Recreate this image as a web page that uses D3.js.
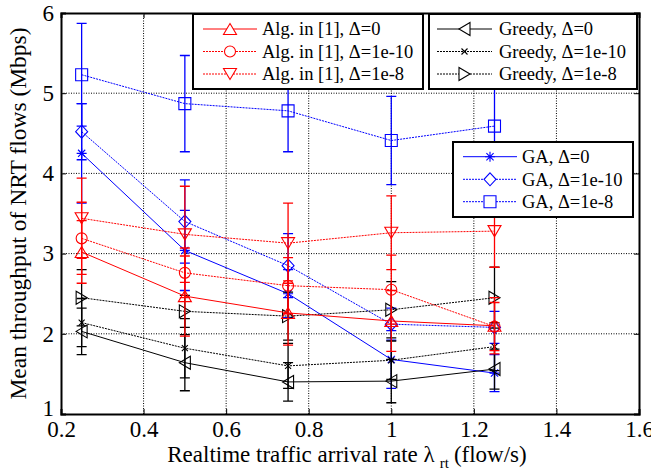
<!DOCTYPE html>
<html>
<head>
<meta charset="utf-8">
<script src="https://cdn.jsdelivr.net/npm/d3@7"></script>
<style>
  body { margin: 0; background: #fff; }
  svg text { font-family: "Liberation Serif", "DejaVu Serif", serif; }
</style>
</head>
<body>
<svg id="chart" width="651" height="468"></svg>
<script>
// ---- data ----
const xValues = [0.25, 0.5, 0.75, 1, 1.25];

const algD0 = [3.02, 2.47, 2.26, 2.16, 2.10];
const algD10 = [3.19, 2.76, 2.60, 2.55, 2.09];
const algD8 = [3.44, 3.24, 3.13, 3.26, 3.28];
const greedyD0 = [2.03, 1.64, 1.40, 1.41, 1.56];
const greedyD10 = [2.14, 1.82, 1.60, 1.67, 1.84];
const greedyD8 = [2.45, 2.28, 2.22, 2.30, 2.45];
const gaD0 = [4.25, 3.04, 2.50, 1.68, 1.51];
const gaD10 = [4.52, 3.40, 2.85, 2.12, 2.08];
const gaD8 = [5.23, 4.87, 4.78, 4.41, 4.59];

// half-length of the error bars
const algD0Err = [0.39, 0.50, 0.40, 0.38, 0.35];
const algD10Err = [0.45, 0.31, 0.35, 0.43, 0.30];
const algD8Err = [0.50, 0.60, 0.50, 0.46, 0.45];
const greedyD0Err = [0.29, 0.35, 0.24, 0.27, 0.25];
const greedyD10Err = [0.30, 0.37, 0.28, 0.24, 0.30];
const greedyD8Err = [0.35, 0.20, 0.30, 0.35, 0.38];
const gaD0Err = [0.62, 0.50, 0.30, 0.36, 0.23];
const gaD10Err = [0.35, 0.52, 0.40, 0.20, 0.20];
const gaD8Err = [0.64, 0.60, 0.51, 0.55, 0.60];

const xTicks = [0.2, 0.4, 0.6, 0.8, 1, 1.2, 1.4, 1.6];
const yTicks = [1, 2, 3, 4, 5, 6];

const legendAlg = ["Alg. in [1], \u0394=0", "Alg. in [1], \u0394=1e-10", "Alg. in [1], \u0394=1e-8"];
const legendGreedy = ["Greedy, \u0394=0", "Greedy, \u0394=1e-10", "Greedy, \u0394=1e-8"];
const legendGA = ["GA, \u0394=0", "GA, \u0394=1e-10", "GA, \u0394=1e-8"];

const serif = "Liberation Serif, DejaVu Serif, serif";

// ---- series table ----
const series = [
    { name: legendGA[0], values: gaD0, err: gaD0Err, color: "#0000ff", marker: "star", dash: null },
    { name: legendGA[1], values: gaD10, err: gaD10Err, color: "#0000ff", marker: "diamond", dash: "2,1" },
    { name: legendGA[2], values: gaD8, err: gaD8Err, color: "#0000ff", marker: "square", dash: "2,1" },
    { name: legendGreedy[0], values: greedyD0, err: greedyD0Err, color: "#000", marker: "triLeft", dash: null },
    { name: legendGreedy[1], values: greedyD10, err: greedyD10Err, color: "#000", marker: "cross", dash: "2,1" },
    { name: legendGreedy[2], values: greedyD8, err: greedyD8Err, color: "#000", marker: "triRight", dash: "2,1" },
    { name: legendAlg[0], values: algD0, err: algD0Err, color: "#ff0000", marker: "triUp", dash: null },
    { name: legendAlg[1], values: algD10, err: algD10Err, color: "#ff0000", marker: "circle", dash: "2,1" },
    { name: legendAlg[2], values: algD8, err: algD8Err, color: "#ff0000", marker: "triDown", dash: "2,1" }
];

const svg = d3.select("#chart");
const margin = { left: 61, right: 12, top: 13, bottom: 54 };
const width = 651, height = 468;

const x = d3.scaleLinear().domain([0.2, 1.6]).range([margin.left, width - margin.right]);
const y = d3.scaleLinear().domain([1, 6]).range([height - margin.bottom, margin.top]);

// marker shapes
function markerPath(type) {
    switch (type) {
        case "triUp": return "M0,-5.5L6.5,5.5L-6.5,5.5Z";
        case "triDown": return "M0,5.5L6.5,-5.5L-6.5,-5.5Z";
        case "triLeft": return "M-5.5,0L5.5,-6.5L5.5,6.5Z";
        case "triRight": return "M5.5,0L-5.5,-6.5L-5.5,6.5Z";
        case "circle": return "M5.5,0A5.5,5.5 0 1,1 -5.5,0A5.5,5.5 0 1,1 5.5,0Z";
        case "square": return "M-6,-6H6V6H-6Z";
        case "diamond": return "M0,-6.5L6,0L0,6.5L-6,0Z";
        case "star": return "M0,-5V5M-5,0H5M-3.6,-3.6L3.6,3.6M-3.6,3.6L3.6,-3.6";
        case "cross": return "M-3,-3L3,3M-3,3L3,-3";
    }
}

// ---- grid ----
const grid = svg.append("g").attr("class", "grid");
grid.selectAll(".gx").data(xTicks.slice(1, -1)).join("line")
    .attr("x1", d => x(d)).attr("x2", d => x(d))
    .attr("y1", y(1)).attr("y2", y(6))
    .attr("stroke", "#000").attr("stroke-width", 1).attr("stroke-dasharray", "1,1.5");
grid.selectAll(".gy").data(yTicks.slice(1, -1)).join("line")
    .attr("x1", x(0.2)).attr("x2", x(1.6))
    .attr("y1", d => y(d)).attr("y2", d => y(d))
    .attr("stroke", "#000").attr("stroke-width", 1).attr("stroke-dasharray", "1,1.5");

// ---- series ----
const line = d3.line().x((d, i) => x(xValues[i])).y(d => y(d));
const capW = 5;

series.forEach(s => {
    const g = svg.append("g").attr("class", "series");
    // error bars
    s.values.forEach((v, i) => {
        const cx = x(xValues[i]);
        const lo = y(v - s.err[i]), hi = y(v + s.err[i]);
        g.append("path")
            .attr("d", `M${cx},${hi}V${lo}M${cx - capW},${hi}H${cx + capW}M${cx - capW},${lo}H${cx + capW}`)
            .attr("fill", "none").attr("stroke", s.color).attr("stroke-width", 1.3);
    });
    g.append("path")
        .attr("d", line(s.values))
        .attr("fill", "none").attr("stroke", s.color).attr("stroke-width", 1)
        .attr("stroke-dasharray", s.dash);
    g.selectAll(".mk").data(s.values).join("path")
        .attr("transform", (d, i) => `translate(${x(xValues[i])},${y(d)})`)
        .attr("d", markerPath(s.marker))
        .attr("fill", "none").attr("stroke", s.color).attr("stroke-width", 1.1);
});

// ---- axes (box with inward ticks) ----
const tickFont = "23px";
const xAxis = svg.append("g")
    .attr("transform", `translate(0,${y(1)})`)
    .call(d3.axisBottom(x).tickValues(xTicks).tickSize(-5).tickPadding(7).tickFormat(d3.format("")));
const xTop = svg.append("g")
    .attr("transform", `translate(0,${y(6)})`)
    .call(d3.axisTop(x).tickValues(xTicks).tickSize(-5).tickFormat(""));
const yAxis = svg.append("g")
    .attr("transform", `translate(${x(0.2)},0)`)
    .call(d3.axisLeft(y).tickValues(yTicks).tickSize(-5).tickPadding(7).tickFormat(d3.format("d")));
const yRight = svg.append("g")
    .attr("transform", `translate(${x(1.6)},0)`)
    .call(d3.axisRight(y).tickValues(yTicks).tickSize(-5).tickFormat(""));

[xAxis, xTop, yAxis, yRight].forEach(a => {
    a.attr("font-family", serif);
    a.select(".domain").attr("stroke", "#000").attr("stroke-width", 2);
    a.selectAll(".tick line").attr("stroke", "#000").attr("stroke-width", 1);
    a.selectAll("text").attr("font-family", serif).attr("font-size", tickFont).attr("fill", "#000");
});
// the lowest y label sits a little above its tick
yAxis.selectAll(".tick text").filter(d => d === 1).attr("dy", "0.05em");

// ---- axis titles ----
const xTitle = svg.append("text")
    .attr("x", 347).attr("y", 462)
    .attr("text-anchor", "middle")
    .attr("font-family", serif)
    .attr("font-size", "23px");
xTitle.append("tspan").text("Realtime traffic arrival rate \u03bb");
xTitle.append("tspan").attr("dx", 5).attr("dy", 6).attr("font-size", "15px").text("rt");
xTitle.append("tspan").attr("dx", 5).attr("dy", -6).text("(flow/s)");

svg.append("text")
    .attr("transform", `translate(26,${(y(1) + y(6)) / 2}) rotate(-90)`)
    .attr("text-anchor", "middle")
    .attr("font-family", serif)
    .attr("font-size", "23.5px")
    .text("Mean throughput of NRT flows (Mbps)");

// ---- legends ----
function drawLegend(box, entries, lineX0, lineX1, textX, rows) {
    const g = svg.append("g").attr("class", "legend");
    g.append("rect")
        .attr("x", box.x).attr("y", box.y).attr("width", box.w).attr("height", box.h)
        .attr("fill", "#fff").attr("stroke", "#000").attr("stroke-width", 2);
    entries.forEach((s, i) => {
        const ry = rows[i];
        g.append("line")
            .attr("x1", lineX0).attr("x2", lineX1).attr("y1", ry).attr("y2", ry)
            .attr("stroke", s.color).attr("stroke-width", 1).attr("stroke-dasharray", s.dash);
        g.append("path")
            .attr("transform", `translate(${(lineX0 + lineX1) / 2},${ry})`)
            .attr("d", markerPath(s.marker))
            .attr("fill", "#fff").attr("stroke", s.color).attr("stroke-width", 1.1);
        g.append("text")
            .attr("x", textX).attr("y", ry).attr("dy", "0.35em")
            .attr("font-family", serif)
            .attr("font-size", "18.5px")
            .text(s.name);
    });
}

drawLegend({ x: 193, y: 14, w: 230, h: 75 }, series.slice(6, 9), 203, 257, 262, [29, 51.5, 74]);
drawLegend({ x: 429, y: 14, w: 208, h: 75 }, series.slice(3, 6), 437, 492, 499, [29, 51.5, 74]);
drawLegend({ x: 453, y: 142, w: 180, h: 75 }, series.slice(0, 3), 463, 517, 522, [156.7, 179.3, 201.7]);
</script>
</body>
</html>
